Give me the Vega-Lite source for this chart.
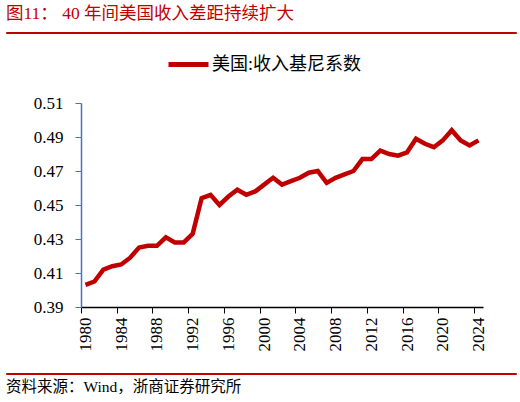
{
  "$schema": "https://vega.github.io/schema/vega-lite/v6.json",
  "description": "US income Gini coefficient, 1980-2024",
  "padding": {"left": 5, "top": 4, "right": 5, "bottom": 0},
  "spacing": 8,
  "data": {
    "values": [
      {"year": 1980, "gini": 0.403, "series": "美国:收入基尼系数"},
      {"year": 1981, "gini": 0.405, "series": "美国:收入基尼系数"},
      {"year": 1982, "gini": 0.412, "series": "美国:收入基尼系数"},
      {"year": 1983, "gini": 0.414, "series": "美国:收入基尼系数"},
      {"year": 1984, "gini": 0.415, "series": "美国:收入基尼系数"},
      {"year": 1985, "gini": 0.419, "series": "美国:收入基尼系数"},
      {"year": 1986, "gini": 0.425, "series": "美国:收入基尼系数"},
      {"year": 1987, "gini": 0.426, "series": "美国:收入基尼系数"},
      {"year": 1988, "gini": 0.426, "series": "美国:收入基尼系数"},
      {"year": 1989, "gini": 0.431, "series": "美国:收入基尼系数"},
      {"year": 1990, "gini": 0.428, "series": "美国:收入基尼系数"},
      {"year": 1991, "gini": 0.428, "series": "美国:收入基尼系数"},
      {"year": 1992, "gini": 0.433, "series": "美国:收入基尼系数"},
      {"year": 1993, "gini": 0.454, "series": "美国:收入基尼系数"},
      {"year": 1994, "gini": 0.456, "series": "美国:收入基尼系数"},
      {"year": 1995, "gini": 0.450, "series": "美国:收入基尼系数"},
      {"year": 1996, "gini": 0.455, "series": "美国:收入基尼系数"},
      {"year": 1997, "gini": 0.459, "series": "美国:收入基尼系数"},
      {"year": 1998, "gini": 0.456, "series": "美国:收入基尼系数"},
      {"year": 1999, "gini": 0.458, "series": "美国:收入基尼系数"},
      {"year": 2000, "gini": 0.462, "series": "美国:收入基尼系数"},
      {"year": 2001, "gini": 0.466, "series": "美国:收入基尼系数"},
      {"year": 2002, "gini": 0.462, "series": "美国:收入基尼系数"},
      {"year": 2003, "gini": 0.464, "series": "美国:收入基尼系数"},
      {"year": 2004, "gini": 0.466, "series": "美国:收入基尼系数"},
      {"year": 2005, "gini": 0.469, "series": "美国:收入基尼系数"},
      {"year": 2006, "gini": 0.470, "series": "美国:收入基尼系数"},
      {"year": 2007, "gini": 0.463, "series": "美国:收入基尼系数"},
      {"year": 2008, "gini": 0.466, "series": "美国:收入基尼系数"},
      {"year": 2009, "gini": 0.468, "series": "美国:收入基尼系数"},
      {"year": 2010, "gini": 0.470, "series": "美国:收入基尼系数"},
      {"year": 2011, "gini": 0.477, "series": "美国:收入基尼系数"},
      {"year": 2012, "gini": 0.477, "series": "美国:收入基尼系数"},
      {"year": 2013, "gini": 0.482, "series": "美国:收入基尼系数"},
      {"year": 2014, "gini": 0.480, "series": "美国:收入基尼系数"},
      {"year": 2015, "gini": 0.479, "series": "美国:收入基尼系数"},
      {"year": 2016, "gini": 0.481, "series": "美国:收入基尼系数"},
      {"year": 2017, "gini": 0.489, "series": "美国:收入基尼系数"},
      {"year": 2018, "gini": 0.486, "series": "美国:收入基尼系数"},
      {"year": 2019, "gini": 0.484, "series": "美国:收入基尼系数"},
      {"year": 2020, "gini": 0.488, "series": "美国:收入基尼系数"},
      {"year": 2021, "gini": 0.494, "series": "美国:收入基尼系数"},
      {"year": 2022, "gini": 0.488, "series": "美国:收入基尼系数"},
      {"year": 2023, "gini": 0.485, "series": "美国:收入基尼系数"},
      {"year": 2024, "gini": 0.488, "series": "美国:收入基尼系数"}
    ]
  },
  "vconcat": [
    {
      "width": 510,
      "height": 1,
      "view": {"stroke": "#C00000", "strokeWidth": 1},
      "title": {
        "text": "图11：  40 年间美国收入差距持续扩大",
        "anchor": "start",
        "color": "#C00000",
        "fontSize": 17.5,
        "fontWeight": "normal",
        "font": "Liberation Serif, Noto Sans CJK SC",
        "offset": 10
      },
      "mark": {"type": "point", "size": 0, "filled": true, "opacity": 0},
      "encoding": {}
    },
    {
      "spacing": 0,
      "hconcat": [
        {
          "width": 1,
          "height": 261,
          "mark": {"type": "point", "size": 0, "filled": true, "opacity": 0},
          "encoding": {}
        },
        {
          "width": 402,
          "height": 204,
          "mark": {"type": "line", "strokeWidth": 4.5},
          "encoding": {
            "x": {
              "field": "year",
              "type": "quantitative",
              "scale": {"domain": [1979.5, 2024.5], "nice": false, "zero": false},
              "axis": {
                "title": null,
                "grid": false,
                "values": [1980, 1984, 1988, 1992, 1996, 2000, 2004, 2008, 2012, 2016, 2020, 2024],
                "format": "d",
                "labelAngle": -90,
                "labelFont": "Liberation Serif",
                "labelFontSize": 17,
                "labelColor": "#000000",
                "labelPadding": 4,
                "domainColor": "#000000",
                "domainWidth": 1.5,
                "tickColor": "#000000",
                "tickSize": 6,
                "tickOffset": -4.47,
                "labelOffset": 4.47
              }
            },
            "y": {
              "field": "gini",
              "type": "quantitative",
              "scale": {"domain": [0.39, 0.51], "nice": false, "zero": false},
              "axis": {
                "title": null,
                "grid": false,
                "values": [0.39, 0.41, 0.43, 0.45, 0.47, 0.49, 0.51],
                "format": ".2f",
                "labelFont": "Liberation Serif",
                "labelFontSize": 17,
                "labelColor": "#000000",
                "labelPadding": 12,
                "domainColor": "#4472C4",
                "domainWidth": 1.5,
                "tickColor": "#4472C4",
                "tickSize": 6,
                "minExtent": 74,
                "maxExtent": 74
              }
            },
            "color": {
              "field": "series",
              "type": "nominal",
              "scale": {"range": ["#C00000"]},
              "legend": {
                "title": null,
                "orient": "none",
                "legendX": 85,
                "legendY": -61,
                "padding": 0,
                "symbolType": "stroke",
                "symbolSize": 1600,
                "symbolStrokeWidth": 5,
                "labelFont": "Liberation Serif, Noto Sans CJK SC",
                "labelFontSize": 18,
                "labelColor": "#000000",
                "labelOffset": 1
              }
            }
          }
        }
      ],
      "resolve": {"scale": {"color": "independent"}, "legend": {"color": "independent"}}
    },
    {
      "width": 510,
      "height": 1,
      "view": {"stroke": "#C00000", "strokeWidth": 1},
      "title": {
        "text": "资料来源：Wind，浙商证券研究所",
        "orient": "bottom",
        "anchor": "start",
        "color": "#000000",
        "fontSize": 15.5,
        "fontWeight": "normal",
        "font": "Liberation Serif, Noto Sans CJK SC",
        "offset": 6
      },
      "mark": {"type": "point", "size": 0, "filled": true, "opacity": 0},
      "encoding": {}
    }
  ],
  "resolve": {"scale": {"color": "independent"}, "legend": {"color": "independent"}},
  "config": {
    "view": {"stroke": null},
    "background": "#ffffff"
  }
}
